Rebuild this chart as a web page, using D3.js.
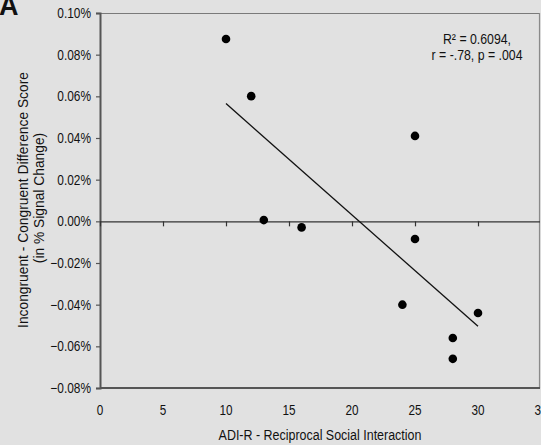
<!DOCTYPE html>
<html>
<head>
<meta charset="utf-8">
<script src="https://cdn.jsdelivr.net/npm/d3@7"></script>
<style>
  html, body { margin: 0; padding: 0; background: #e1e1e1; }
  svg { display: block; }
  text { font-family: "Liberation Sans", Arial, sans-serif; fill: #111; }
</style>
</head>
<body>
<svg id="chart" width="541" height="445"></svg>
<script>
// ADI-R reciprocal social interaction score per participant
const adiScores = [10, 12, 13, 16, 25, 25, 24, 30, 28, 28];
// Incongruent minus congruent difference, in % signal change
const diffScores = [0.0875, 0.0601, 0.0006, -0.0029, 0.041, -0.0085, -0.040, -0.044, -0.056, -0.066];
const xTicks = [0, 5, 10, 15, 20, 25, 30, 35];
const yTicks = [0.10, 0.08, 0.06, 0.04, 0.02, 0.00, -0.02, -0.04, -0.06, -0.08];
const statLines = ["R² = 0.6094,", "r = -.78, p = .004"];

const svg = d3.select("#chart");
const plot = { left: 100, right: 540, top: 13, bottom: 388 };

const x = d3.scaleLinear().domain([0, 35]).range([plot.left, plot.left + 441]);
const y = d3.scaleLinear().domain([-0.08, 0.10]).range([plot.bottom, plot.top]);

// Condense text horizontally (narrow typeface look) around its own anchor point
function narrow(sel, k, base = "") {
  sel.each(function () {
    const t = d3.select(this);
    const tx = +t.attr("x") || 0, ty = +t.attr("y") || 0;
    t.attr("x", 0).attr("y", 0)
     .attr("transform", `${base} translate(${tx},${ty}) scale(${k},1)`);
  });
}

// Plot frame: light top/right edges, darker left/bottom edges
svg.append("line").attr("x1", plot.left).attr("x2", plot.right).attr("y1", plot.top + 0.5).attr("y2", plot.top + 0.5)
  .attr("stroke", "#7a7a7a").attr("stroke-width", 1.2);
svg.append("line").attr("x1", plot.right - 0.5).attr("x2", plot.right - 0.5).attr("y1", plot.top).attr("y2", plot.bottom)
  .attr("stroke", "#8a8a8a").attr("stroke-width", 1.2);

// Y axis
const yAxis = d3.axisLeft(y).tickValues(yTicks).tickSize(4).tickPadding(5)
  .tickFormat(d => d3.format(".2f")(d) + "%");
const gy = svg.append("g").attr("transform", `translate(${plot.left},0)`).call(yAxis);
gy.select(".domain").attr("stroke", "#555").attr("stroke-width", 2);
gy.selectAll(".tick line").attr("stroke", "#555").attr("stroke-width", 1.2);
gy.selectAll(".tick text").attr("font-size", 14).style("font-family", null).attr("fill", "#111");
narrow(gy.selectAll(".tick text"), 0.85);

// Bottom edge
svg.append("line").attr("x1", plot.left).attr("x2", plot.right).attr("y1", plot.bottom).attr("y2", plot.bottom)
  .attr("stroke", "#555").attr("stroke-width", 1.8);

// X axis drawn through zero, with tick marks only
const xAxis = d3.axisBottom(x).tickValues(xTicks.filter(v => v < 35)).tickSize(5).tickFormat("");
const gx = svg.append("g").attr("transform", `translate(0,${y(0)})`).call(xAxis);
gx.select(".domain").attr("stroke", "#333").attr("stroke-width", 1.2).attr("d", `M${plot.left},0.5H${plot.right}`);
gx.selectAll(".tick line").attr("stroke", "#333").attr("stroke-width", 1.2);

// X tick labels along the bottom
const xl = svg.append("g").selectAll("text").data(xTicks).join("text")
  .attr("x", d => x(d)).attr("y", 415)
  .attr("text-anchor", "middle").attr("font-size", 14)
  .text(d => d);
narrow(xl, 0.84);

// Least-squares fit line over the observed range
const mx = d3.mean(adiScores), my = d3.mean(diffScores);
const sxy = d3.sum(adiScores, (v, i) => (v - mx) * (diffScores[i] - my));
const sxx = d3.sum(adiScores, v => (v - mx) ** 2);
const slope = sxy / sxx, intercept = my - slope * mx;
const [x0, x1] = d3.extent(adiScores);
svg.append("line")
  .attr("x1", x(x0)).attr("y1", y(intercept + slope * x0))
  .attr("x2", x(x1)).attr("y2", y(intercept + slope * x1))
  .attr("stroke", "#111").attr("stroke-width", 1.3);

// Data points
svg.append("g").selectAll("circle").data(adiScores).join("circle")
  .attr("cx", d => x(d)).attr("cy", (d, i) => y(diffScores[i]))
  .attr("r", 4.3).attr("fill", "#000");

// Fit statistics
const st = svg.append("g").selectAll("text").data(statLines).join("text")
  .attr("x", 477).attr("y", (d, i) => 44 + i * 16)
  .attr("text-anchor", "middle").attr("font-size", 14)
  .text(d => d);
narrow(st, 0.88);

// Axis titles
narrow(svg.append("text").attr("x", 320).attr("y", 440).attr("text-anchor", "middle").attr("font-size", 14)
  .text("ADI-R - Reciprocal Social Interaction"), 0.89);
narrow(svg.append("text").attr("text-anchor", "middle").attr("font-size", 15)
  .text("Incongruent - Congruent Difference Score"), 0.92, "translate(28,200) rotate(-90)");
narrow(svg.append("text").attr("text-anchor", "middle").attr("font-size", 15)
  .text("(in % Signal Change)"), 0.92, "translate(44,198) rotate(-90)");

// Panel letter
svg.append("text").attr("x", -1).attr("y", 15).attr("font-size", 27).attr("font-weight", "bold").text("A");
</script>
</body>
</html>
